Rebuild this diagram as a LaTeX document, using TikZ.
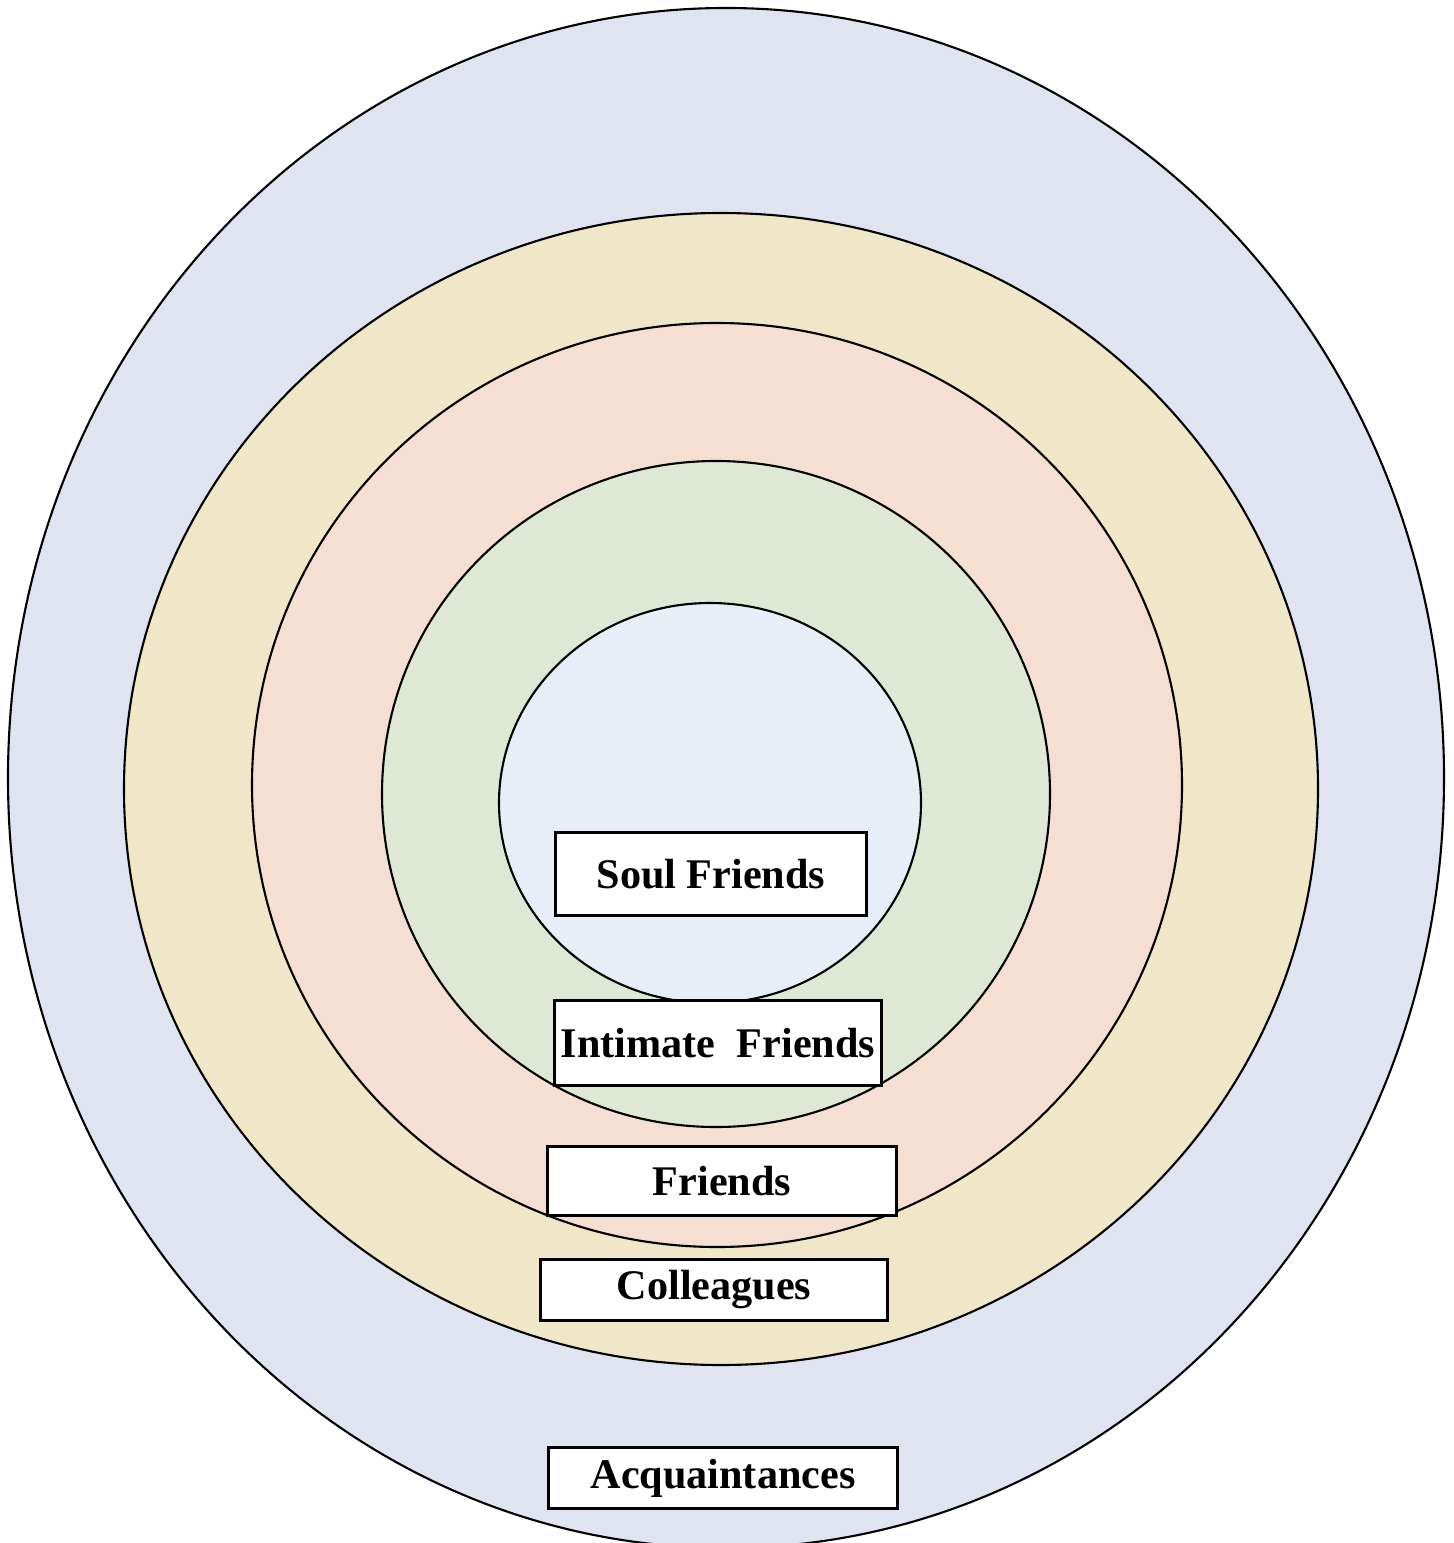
\documentclass[tikz,border=0pt]{standalone}
\usepackage{fontspec}
\setmainfont{Liberation Serif}
\definecolor{ringA}{RGB}{223,228,240}
\definecolor{ringB}{RGB}{240,230,200}
\definecolor{ringC}{RGB}{244,223,210}
\definecolor{ringD}{RGB}{222,232,213}
\definecolor{ringE}{RGB}{232,238,247}
\tikzset{
    ring/.style={draw=black,line width=0.6pt},
    tag/.style={draw=black,fill=white,line width=0.9pt,inner sep=0pt,font=\bfseries\fontsize{12}{14}\selectfont}
}
\begin{document}
\begin{tikzpicture}[x=0.01cm,y=-0.01cm]
    \useasboundingbox (0,0) rectangle (1453,1543);
    \clip (0,0) rectangle (1453,1543);
    % rings, outer to inner: cx/cy/rx/ry/colour
    \foreach \cx/\cy/\rx/\ry/\c in {726/778/718/770/ringA, 721/789/597/576/ringB, 717/785/465/462/ringC, 716/794/334/333/ringD, 710/803/211/200/ringE}
        \filldraw[ring,fill=\c] (\cx,\cy) ellipse [x radius=\rx, y radius=\ry];
    % labels
    \node[tag,minimum width=3.11cm,minimum height=0.83cm] (soul) at (711,874) {Soul Friends};
    \node[tag,minimum width=3.26cm,minimum height=0.85cm] (intimate) at (718,1043) {Intimate \ Friends};
    \node[tag,minimum width=3.48cm,minimum height=0.69cm] (friends) at (722,1181) {Friends};
    \node[tag,minimum width=3.47cm,minimum height=0.61cm] (colleagues) at (714,1290) {Colleagues};
    \node[tag,minimum width=3.48cm,minimum height=0.61cm] (acquaint) at (723,1478) {Acquaintances};
\end{tikzpicture}
\end{document}
